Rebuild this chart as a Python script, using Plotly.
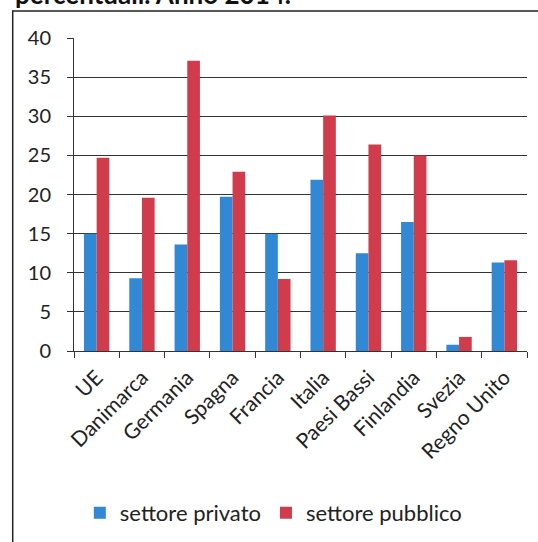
import plotly.graph_objects as go

categories = ["UE", "Danimarca", "Germania", "Spagna", "Francia", "Italia",
              "Paesi Bassi", "Finlandia", "Svezia", "Regno Unito"]
privato = [15.0, 9.3, 13.6, 19.7, 15.0, 21.9, 12.5, 16.5, 0.8, 11.3]
pubblico = [24.7, 19.6, 37.1, 22.9, 9.2, 30.1, 26.4, 25.0, 1.8, 11.6]
series_names = ["settore privato", "settore pubblico"]
y_ticks = [0, 5, 10, 15, 20, 25, 30, 35, 40]
title_text = "percentuali. Anno 2014."

FONT = "Lato, 'Open Sans', sans-serif"

fig = go.Figure()
fig.add_trace(go.Bar(x=categories, y=privato, name=series_names[0],
                     marker=dict(color="#3189D6", line=dict(width=0))))
fig.add_trace(go.Bar(x=categories, y=pubblico, name=series_names[1],
                     marker=dict(color="#D03C4C", line=dict(width=0))))

fig.update_layout(
    width=538, height=542,
    margin=dict(l=74, r=11, t=38, b=191, autoexpand=False),
    paper_bgcolor="white", plot_bgcolor="white",
    barmode="group", bargap=0.44, bargroupgap=0,
    font=dict(family=FONT, size=18, color="#222222"),
    showlegend=True,
    legend=dict(orientation="h", x=0.44, xanchor="center", y=-0.5176, yanchor="middle",
                font=dict(size=22, family=FONT), itemwidth=30, traceorder="normal"),
    xaxis=dict(tickangle=-45, showline=True, linecolor="#333333", linewidth=1,
               ticks="outside", ticklen=6, tickcolor="#333333", tickson="boundaries",
               showgrid=False, tickfont=dict(size=21, family=FONT),
               ticklabelstandoff=5),
    yaxis=dict(range=[0, 40], tickvals=y_ticks, showline=True, linecolor="#333333",
               linewidth=1, ticks="outside", ticklen=6, tickcolor="#333333",
               showgrid=True, gridcolor="#333333", gridwidth=1, zeroline=False,
               tickfont=dict(size=20, family=FONT), ticklabelstandoff=12),
    shapes=[dict(type="rect", xref="paper", yref="paper",
                 x0=-0.1353, x1=1.2, y0=-0.8, y1=1.0863,
                 line=dict(color="#222222", width=1.5), fillcolor="rgba(0,0,0,0)",
                 layer="below")],
    annotations=[dict(text="<b>" + title_text + "</b>", xref="paper", yref="paper",
                      x=-0.1347, y=1.0863, yshift=-1, xanchor="left", yanchor="bottom",
                      showarrow=False, font=dict(size=26, family=FONT, color="#111111"))],
)

fig.write_html("out.html", config={"displayModeBar": False},
               post_script="document.body.style.margin='0';document.body.style.padding='0';")
